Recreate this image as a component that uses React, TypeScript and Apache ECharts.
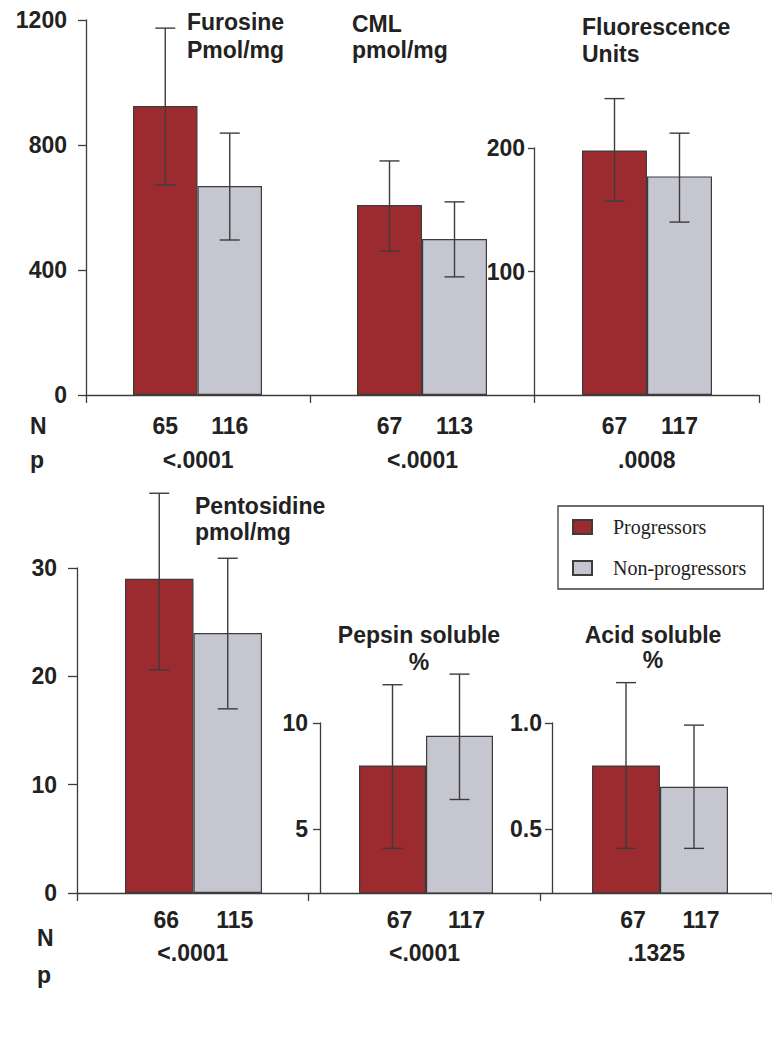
import React, { useEffect, useRef } from "react";
import * as echarts from "echarts";

// ---- data ----
const groupNames = ["Furosine", "CML", "Fluorescence", "Pentosidine", "Pepsin soluble", "Acid soluble"];
const titleLines = [
  ["Furosine", "Pmol/mg"],
  ["CML", "pmol/mg"],
  ["Fluorescence", "Units"],
  ["Pentosidine", "pmol/mg"],
  ["Pepsin soluble", "%"],
  ["Acid soluble", "%"],
];
const seriesNames = ["Progressors", "Non-progressors"];
const progMean = [925, 608, 198, 29, 8.0, 0.8];
const progLow = [672, 461, 157, 20.6, 4.1, 0.41];
const progHigh = [1174, 749, 240, 36.9, 11.8, 1.19];
const nonMean = [669, 499, 177, 24, 9.4, 0.7];
const nonLow = [496, 378, 140, 17.0, 6.4, 0.41];
const nonHigh = [838, 618, 212, 30.9, 12.3, 0.99];
const nProg = [65, 67, 67, 66, 67, 67];
const nNon = [116, 113, 117, 115, 117, 117];
const pValues = ["<.0001", "<.0001", ".0008", "<.0001", "<.0001", ".1325"];
const yMin = [0, 0, 0, 0, 2, 0.2];
const yMax = [1200, 1200, 200, 30, 10, 1.0];
const yTicks: (number[] | null)[] = [[0, 400, 800, 1200], null, [100, 200], [0, 10, 20, 30], [5, 10], [0.5, 1.0]];
const yDecimals = [0, 0, 0, 0, 0, 1];

// ---- layout / style ----
const RED = "#9c2b30";
const GREY = "#c5c6d0";
const INK = "#222222";
const LINE = "#3c3c3c";
const SANS = "Liberation Sans";
const FS = 23;

const layout = [
  { left: 133, width: 129, top: 20, bottom: 395, axisX: 86, margin: 19, tick: 8, nMargin: 19, nPad: 0 },
  { left: 357, width: 130, top: 20, bottom: 395, axisX: null, margin: 0, tick: 0, nMargin: 19, nPad: 0 },
  { left: 582, width: 130, top: 148, bottom: 395, axisX: 534, margin: 9, tick: 6, nMargin: 19, nPad: 0 },
  { left: 125, width: 137, top: 568, bottom: 893, axisX: 77, margin: 20, tick: 9, nMargin: 15, nPad: 14 },
  { left: 359, width: 134, top: 723, bottom: 893, axisX: 320, margin: 12, tick: 7, nMargin: 15, nPad: 14 },
  { left: 592, width: 136, top: 723, bottom: 893, axisX: 552, margin: 10, tick: 7, nMargin: 15, nPad: 14 },
];
const titlePos = [
  { x: 187, y: [22, 50], align: "left" },
  { x: 352, y: [24, 50], align: "left" },
  { x: 582, y: [27, 54], align: "left" },
  { x: 195, y: [506, 532], align: "left" },
  { x: 419, y: [635, 662], align: "center" },
  { x: 653, y: [635, 660], align: "center" },
];
const panels = [
  { left: 86, width: 673, top: 20, bottom: 395, groups: [0, 1, 2], pMargin: 53, letters: { x: 30, n: 426, p: 460 } },
  { left: 77, width: 699, top: 568, bottom: 893, groups: [3, 4, 5], pMargin: 48, letters: { x: 37, n: 938, p: 975 } },
];
const H = 1059;

function buildOption() {
  const grid: any[] = [];
  const xAxis: any[] = [];
  const yAxis: any[] = [];
  const series: any[] = [];
  const graphic: any[] = [];

  layout.forEach((L, i) => {
    grid.push({ left: L.left, width: L.width, top: L.top, height: L.bottom - L.top, containLabel: false });
    xAxis.push({
      type: "category",
      gridIndex: i,
      data: seriesNames,
      axisLine: { show: false },
      axisTick: { show: false },
      axisLabel: {
        margin: L.nMargin,
        padding: [0, 0, 0, L.nPad],
        fontSize: FS,
        fontWeight: "bold",
        fontFamily: SANS,
        color: INK,
        formatter: (_v: string, idx: number) => String(idx === 0 ? nProg[i] : nNon[i]),
      },
    });
    const ticks = yTicks[i];
    const dec = yDecimals[i];
    yAxis.push({
      type: "value",
      gridIndex: i,
      min: yMin[i],
      max: yMax[i],
      show: L.axisX !== null,
      offset: L.axisX !== null ? L.left - (L.axisX as number) : 0,
      splitLine: { show: false },
      axisLine: { show: true, lineStyle: { color: LINE, width: 1.3 } },
      axisTick: { show: true, length: L.tick, customValues: ticks || undefined, lineStyle: { color: LINE, width: 1.3 } },
      axisLabel: {
        margin: L.margin,
        customValues: ticks || undefined,
        fontSize: FS,
        fontWeight: "bold",
        fontFamily: SANS,
        color: INK,
        formatter: (v: number) => v.toFixed(dec),
      },
    });
    series.push({
      type: "bar",
      name: seriesNames[0],
      xAxisIndex: i,
      yAxisIndex: i,
      barWidth: "100%",
      barGap: "-100%",
      data: [progMean[i], "-"],
      itemStyle: { color: RED, borderColor: LINE, borderWidth: 1.2 },
      z: 2,
    });
    series.push({
      type: "bar",
      name: seriesNames[1],
      xAxisIndex: i,
      yAxisIndex: i,
      barWidth: "100%",
      barGap: "-100%",
      data: ["-", nonMean[i]],
      itemStyle: { color: GREY, borderColor: LINE, borderWidth: 1.2 },
      z: 2,
    });
    series.push({
      type: "custom",
      name: "err" + i,
      xAxisIndex: i,
      yAxisIndex: i,
      z: 5,
      clip: false,
      encode: { x: 0, y: [1, 2] },
      data: [
        [0, progLow[i], progHigh[i]],
        [1, nonLow[i], nonHigh[i]],
      ],
      renderItem: (_p: any, api: any) => {
        const x = api.value(0);
        const lo = api.coord([x, api.value(1)]);
        const hi = api.coord([x, api.value(2)]);
        const w = 10;
        const st = { stroke: LINE, lineWidth: 1.4 };
        return {
          type: "group",
          children: [
            { type: "line", shape: { x1: hi[0], y1: hi[1], x2: lo[0], y2: lo[1] }, style: st },
            { type: "line", shape: { x1: hi[0] - w, y1: hi[1], x2: hi[0] + w, y2: hi[1] }, style: st },
            { type: "line", shape: { x1: lo[0] - w, y1: lo[1], x2: lo[0] + w, y2: lo[1] }, style: st },
          ],
        };
      },
    });
    const T = titlePos[i];
    titleLines[i].forEach((t, k) => {
      graphic.push({
        type: "text",
        x: T.x,
        y: T.y[k],
        z: 10,
        style: {
          text: t,
          fill: INK,
          fontSize: FS,
          fontWeight: "bold",
          fontFamily: SANS,
          textAlign: T.align,
          align: T.align,
          textVerticalAlign: "middle",
          verticalAlign: "middle",
        },
      });
    });
  });

  panels.forEach((P, k) => {
    const gi = layout.length + k;
    grid.push({ left: P.left, width: P.width, top: P.top, height: P.bottom - P.top });
    xAxis.push({
      type: "category",
      gridIndex: gi,
      data: P.groups.map((g) => groupNames[g]),
      axisLine: { show: true, lineStyle: { color: LINE, width: 1.3 } },
      axisTick: { show: true, length: 8, lineStyle: { color: LINE, width: 1.3 } },
      axisLabel: {
        margin: P.pMargin,
        fontSize: FS,
        fontWeight: "bold",
        fontFamily: SANS,
        color: INK,
        formatter: (_v: string, idx: number) => pValues[P.groups[idx]],
      },
      z: 3,
    });
    yAxis.push({ type: "value", gridIndex: gi, show: false, min: 0, max: 1 });
    ["N", "p"].forEach((s, j) => {
      graphic.push({
        type: "text",
        x: P.letters.x,
        y: j === 0 ? P.letters.n : P.letters.p,
        style: {
          text: s,
          fill: INK,
          fontSize: FS,
          fontWeight: "bold",
          fontFamily: SANS,
          textVerticalAlign: "middle",
          verticalAlign: "middle",
        },
      });
    });
  });

  return {
    animation: false,
    backgroundColor: "#ffffff",
    grid,
    xAxis,
    yAxis,
    series,
    graphic,
    legend: {
      data: seriesNames,
      orient: "vertical",
      left: 558,
      top: 506,
      padding: [11, 17, 11, 14],
      itemWidth: 19,
      itemHeight: 14,
      itemGap: 21,
      icon: "rect",
      borderColor: LINE,
      borderWidth: 1.3,
      textStyle: { fontFamily: "Liberation Serif", fontSize: 20, color: INK, padding: [0, 0, 0, 16] },
    },
  };
}

export default function App() {
  const ref = useRef<HTMLDivElement>(null);
  useEffect(() => {
    if (!ref.current) return;
    const chart = echarts.init(ref.current, null, { renderer: "svg" });
    chart.setOption(buildOption() as any);
    return () => chart.dispose();
  }, []);
  return (
    <div
      ref={ref}
      style={{ position: "absolute", left: 0, top: 0, width: 772, height: H, background: "#fff" }}
    />
  );
}
